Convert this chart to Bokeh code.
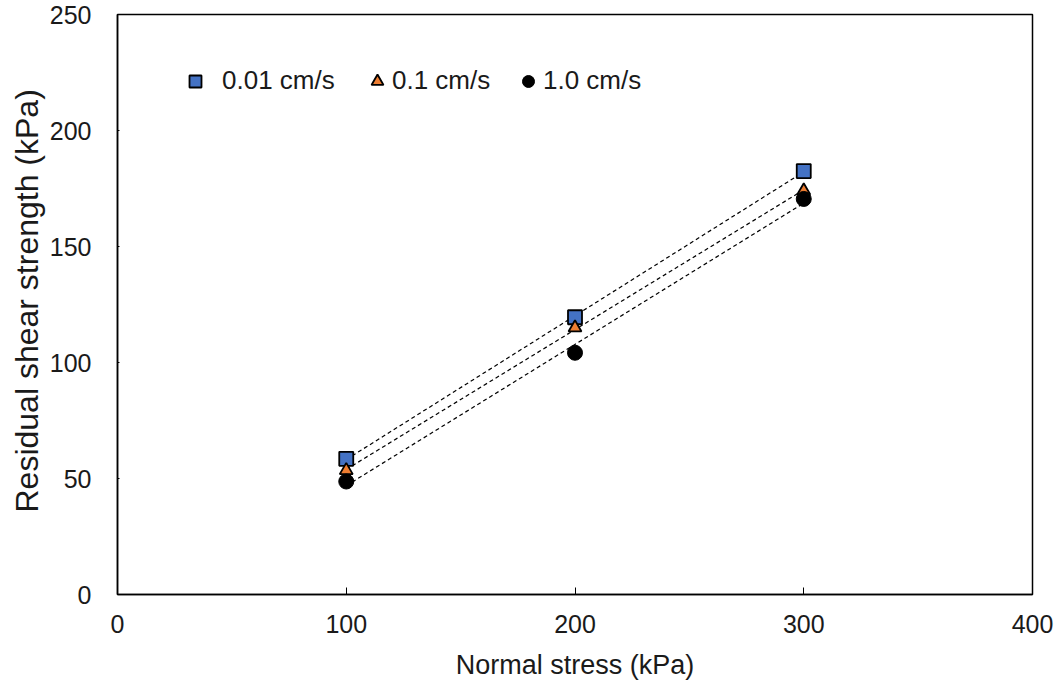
import numpy as np
from bokeh.plotting import figure
from bokeh.models import Range1d, Legend, LegendItem, FixedTicker, Title
from bokeh.embed import file_html
from bokeh.resources import INLINE

normal_stress = [100, 200, 300]
s001 = [58.5, 119.5, 182.5]
s01 = [53.5, 115.0, 174.0]
s10 = [48.7, 104.2, 170.5]
labels = ["0.01 cm/s", "0.1 cm/s", "1.0 cm/s"]
x_ticks = [0, 100, 200, 300, 400]
y_ticks = [0, 50, 100, 150, 200, 250]
y_title = "Residual shear strength (kPa)"
x_title = "Normal stress (kPa)"

FONT = "Liberation Sans"

p = figure(width=1062, height=686, output_backend="svg", toolbar_location=None,
           x_range=Range1d(0, 400), y_range=Range1d(0, 250),
           min_border_left=117, min_border_right=30, min_border_top=14, min_border_bottom=92)
p.grid.visible = False
p.outline_line_color = "black"
p.outline_line_width = 1.5
p.background_fill_color = "white"

for ax in (p.xaxis[0], p.yaxis[0]):
    ax.axis_line_width = 1.5
    ax.major_label_text_font = FONT
    ax.major_label_text_font_size = "25px"
    ax.major_label_text_color = "#1a1a1a"
    ax.axis_label_text_font = FONT
    ax.axis_label_text_font_style = "normal"
    ax.axis_label_text_color = "#1a1a1a"
    ax.minor_tick_line_color = None
    ax.major_tick_out = 0

p.xaxis.ticker = FixedTicker(ticks=x_ticks)
p.yaxis.ticker = FixedTicker(ticks=y_ticks)
p.xaxis.major_tick_in = 7
p.yaxis.major_tick_in = 2
p.xaxis.axis_label = x_title
p.xaxis.axis_label_text_font_size = "27px"
p.xaxis.major_label_standoff = 20
p.yaxis.major_label_standoff = 26
p.xaxis.axis_label_standoff = 14

ytitle = Title(text=y_title, align="left", offset=82, standoff=4,
               text_font=FONT, text_font_size="32px", text_font_style="normal",
               text_color="#1a1a1a")
p.add_layout(ytitle, "left")

xs = np.array(normal_stress, dtype=float)
for ys in (s001, s01, s10):
    m, b = np.polyfit(xs, np.array(ys), 1)
    p.line([xs.min(), xs.max()], [m * xs.min() + b, m * xs.max() + b],
           line_color="black", line_dash="4 3", line_width=1.2)

r1 = p.scatter(normal_stress, s001, marker="square", size=14, fill_color="#4472C4",
               line_color="black", line_width=1.8)
r2 = p.scatter(normal_stress, s01, marker="triangle", size=13, fill_color="#ED7D31",
               line_color="black", line_width=1.8)
r3 = p.scatter(normal_stress, s10, marker="circle", size=15, fill_color="black",
               line_color="black", line_width=1)

legend_spec = [(labels[0], r1, 63, 12), (labels[1], r2, 245, -3), (labels[2], r3, 396, -3)]
for lab, r, lx, standoff in legend_spec:
    lg = Legend(items=[LegendItem(label=lab, renderers=[r])],
                orientation="horizontal", location=(lx, 498),
                border_line_color=None, background_fill_alpha=0,
                padding=0, margin=0,
                label_text_font=FONT, label_text_font_size="26px", label_text_color="#1a1a1a",
                glyph_width=30, glyph_height=30, label_standoff=standoff)
    p.add_layout(lg, "center")

open("out.html", "w").write(file_html(p, INLINE))
